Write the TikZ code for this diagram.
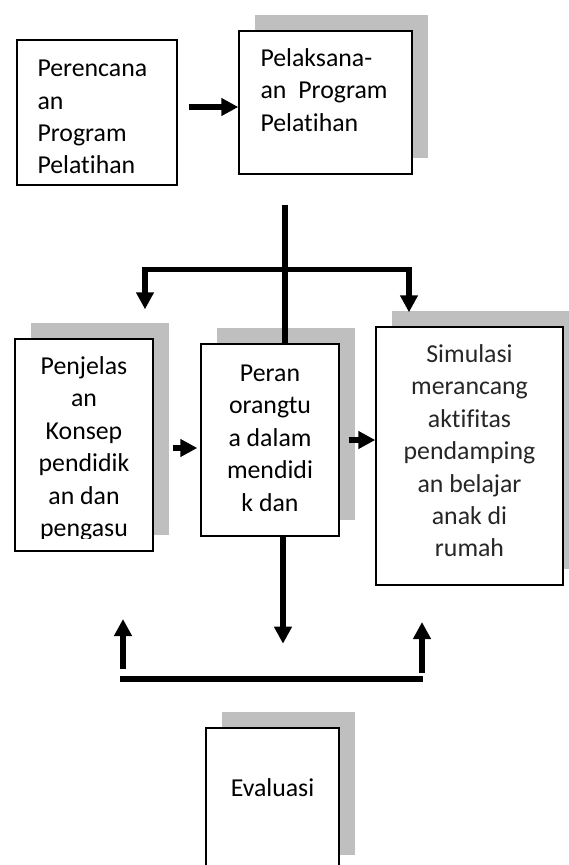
\documentclass[tikz,border=0pt]{standalone}
\usepackage{fontspec}
\setmainfont{Carlito}[Ligatures=NoCommon]
\usetikzlibrary{arrows.meta,positioning,shadows}
\definecolor{shadegray}{RGB}{191,191,191}

\begin{document}
\begin{tikzpicture}[
    x=1pt,y=-1pt,
    font=\fontsize{25.8}{32.4}\selectfont,
    box/.style={draw,fill=white,line width=1.4pt,inner sep=0pt},
    sheet/.style={drop shadow={shadow xshift=16pt,shadow yshift=16.5pt,fill=shadegray,opacity=1}},
    txt/.style={inner sep=0pt,align=center},
    arr/.style={-{Triangle[length=17pt,width=17pt]},line width=5.5pt},
    bar/.style={line width=5.5pt}
  ]
    \useasboundingbox (0,0) rectangle (568,865);

    % Boxes
    \node[box,minimum width=160pt,minimum height=145pt] (plan) at (97,112.5) {};
    \node[box,sheet,minimum width=173pt,minimum height=143pt] (exec) at (325.5,102.5) {};
    \node[box,sheet,minimum width=138pt,minimum height=212pt] (pen) at (84,445) {};
    \node[box,sheet,minimum width=138pt,minimum height=192pt] (peran) at (270,440) {};
    \node[box,sheet,minimum width=187pt,minimum height=258pt] (sim) at (469.5,456) {};
    \node[box,sheet,minimum width=133pt,minimum height=143pt] (eval) at (272.5,799.5) {};

    % Texts
    \node[txt,align=left,below right=14.6pt and 21pt of plan.north west] (plantxt)
      {\strut Perencana\\an\\Program\\Pelatihan};
    \node[txt,align=left,below right=13.3pt and 22pt of exec.north west] (exectxt)
      {\strut Pelaksana-\\an\hspace{12pt}Program\\Pelatihan};
    \begin{scope}
      \clip (pen.north west) rectangle ([yshift=13pt]pen.south east);
      \node[txt,below=13.3pt of pen.north] (pentxt)
        {\strut Penjelas\\an\\Konsep\\pendidik\\an dan\\pengasu};
    \end{scope}
    \node[txt,below=15.3pt of peran.north] (perantxt)
      {\strut Peran\\orangtu\\a dalam\\mendidi\\k dan};
    \node[txt,text=black!85,below=13.3pt of sim.north] (simtxt)
      {\strut Simulasi\\merancang\\aktifitas\\pendamping\\an belajar\\anak di\\rumah};
    \node[txt,below=46pt of eval.north] (evaltxt) {\strut Evaluasi};

    % Connectors
    \draw[arr] ([xshift=11pt,yshift=5.5pt]plan.east) -- ([yshift=-4.5pt]exec.west);
    \draw[bar] ([xshift=-40.5pt,yshift=-30pt]exec.south) -- ([xshift=15pt]peran.north);
    \coordinate (split) at ([xshift=15pt,yshift=74pt]peran.north);
    \coordinate (penin) at ([xshift=61pt,yshift=29pt]pen.north);
    \coordinate (simin) at ([xshift=-60.5pt,yshift=14pt]sim.north);
    \draw[arr] (split) -| (penin);
    \draw[arr] (split) -| (simin);
    \draw[arr] ([xshift=19pt,yshift=-3pt]pen.east) -- ([xshift=-3pt,yshift=-8pt]peran.west);
    \draw[arr] ([xshift=9pt]peran.east) -- ([yshift=16pt]sim.west);
    \coordinate (drop) at ([xshift=13pt,yshift=-107pt]peran.south);
    \draw[arr] ([xshift=13pt]peran.south) -- (drop);

    % Feedback
    \coordinate (fbL) at (123,669);
    \coordinate (fbLtip) at (123,619);
    \coordinate (fbR) at (422,673);
    \coordinate (fbRtip) at (422,622);
    \draw[arr] (fbL) -- (fbLtip);
    \draw[arr] (fbR) -- (fbRtip);
    \draw[bar] (120,679) -- (423,679);
\end{tikzpicture}
\end{document}
